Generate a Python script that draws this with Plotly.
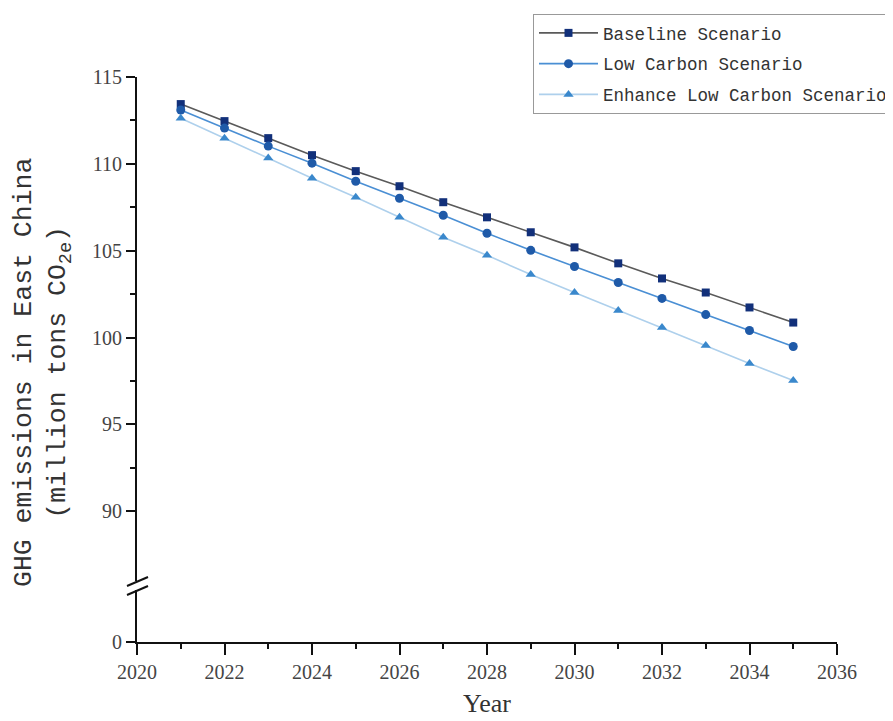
import plotly.graph_objects as go

years = list(range(2021, 2036))
baseline = [113.44, 112.46, 111.48, 110.50, 109.58, 108.71, 107.79, 106.92, 106.06,
            105.19, 104.27, 103.40, 102.59, 101.73, 100.86]
low_carbon = [113.10, 112.06, 111.02, 110.04, 109.00, 108.02, 107.04, 106.00, 105.02,
              104.09, 103.17, 102.25, 101.32, 100.40, 99.48]
enhance = [112.63, 111.48, 110.33, 109.17, 108.08, 106.92, 105.77, 104.73, 103.63,
           102.59, 101.56, 100.57, 99.54, 98.50, 97.52]
series_names = ["Baseline Scenario", "Low Carbon Scenario", "Enhance Low Carbon Scenario"]
x_ticks = list(range(2020, 2037, 2))
y_ticks = [90, 95, 100, 105, 110, 115]
y_minor = [92.5, 97.5, 102.5, 107.5, 112.5]

# the page body adds an 8px offset; positions below are in screenshot pixels
OFF = 8
W, H = 893, 721
SL, SR, ST, SB = 137, 837, 77, 642   # plot area edges on screen
ML, MT = SL - OFF, ST - OFF
MR, MB = W - (SR - OFF), H - (SB - OFF)
PW, PH = SR - SL, SB - ST

def px(x):
    return (x - SL) / PW

def py(y):
    return (SB - y) / PH

TXT = "#333333"
fig = go.Figure()
styles = [
    dict(symbol="square", size=8, mcolor="#12307a", lcolor="#5a5a5a"),
    dict(symbol="circle", size=9, mcolor="#1f5aa8", lcolor="#4a8fd4"),
    dict(symbol="triangle-up", size=9, mcolor="#3a88cc", lcolor="#aed0ec"),
]
for name, vals, st, g in zip(series_names, [baseline, low_carbon, enhance], styles, ["a", "b", "c"]):
    fig.add_trace(go.Scatter(
        x=years, y=vals, name=name, mode="lines+markers", legendgroup=g,
        line=dict(color=st["lcolor"], width=1.6),
        marker=dict(symbol=st["symbol"], size=st["size"], color=st["mcolor"],
                    line=dict(width=0)),
        xaxis="x", yaxis="y", hoverinfo="skip",
    ))
# empty trace so the lower (broken) y-axis segment exists
fig.add_trace(go.Scatter(x=[2020], y=[None], xaxis="x", yaxis="y2",
                         showlegend=False, hoverinfo="skip", mode="markers"))

axis_common = dict(showline=True, linecolor="#111111", linewidth=2, showgrid=False,
                   zeroline=False, ticks="outside", tickcolor="#111111", tickwidth=2,
                   tickfont=dict(family="Liberation Serif", size=20, color="#444444"))

fig.update_layout(
    width=W, height=H,
    margin=dict(l=ML, r=MR, t=MT, b=MB, autoexpand=False),
    plot_bgcolor="white", paper_bgcolor="white",
    showlegend=True,
    legend=dict(x=px(533), y=py(14), xanchor="left", yanchor="top",
                bgcolor="white", bordercolor="#999999", borderwidth=1,
                font=dict(family="Liberation Mono", size=17.5, color=TXT),
                tracegroupgap=5, itemwidth=59),
    xaxis=dict(**axis_common, range=[2020, 2036], anchor="y2",
               tickmode="array", tickvals=x_ticks, ticklen=11,
               minor=dict(dtick=1, tick0=2020, ticks="outside", ticklen=5,
                          tickcolor="#111111", tickwidth=2),
               title=dict(text="Year", standoff=12,
                          font=dict(family="Liberation Serif", size=26, color=TXT))),
    yaxis=dict(**axis_common, domain=[0.108, 1], range=[85.98, 115], anchor="x",
               tickmode="array", tickvals=y_ticks, ticklen=9,
               minor=dict(tickmode="array", tickvals=y_minor, ticks="outside", ticklen=5,
                          tickcolor="#111111", tickwidth=2)),
    yaxis2=dict(**axis_common, domain=[0, 0.092], range=[0, 3.0], anchor="x",
                tickmode="array", tickvals=[0], ticklen=9),
    shapes=[
        dict(type="line", xref="paper", yref="paper", x0=px(127), y0=py(586),
             x1=px(148), y1=py(577), line=dict(color="#111111", width=2)),
        dict(type="line", xref="paper", yref="paper", x0=px(127), y0=py(595),
             x1=px(148), y1=py(586), line=dict(color="#111111", width=2)),
    ],
    annotations=[
        dict(text="GHG emissions in East China<br>(million tons CO<sub>2e</sub>)",
             xref="paper", yref="paper", x=px(43), y=py(373), xanchor="center",
             yanchor="middle", textangle=-90, showarrow=False,
             font=dict(family="Liberation Mono", size=26.5, color=TXT)),
    ],
)

fig.write_html("out.html")
